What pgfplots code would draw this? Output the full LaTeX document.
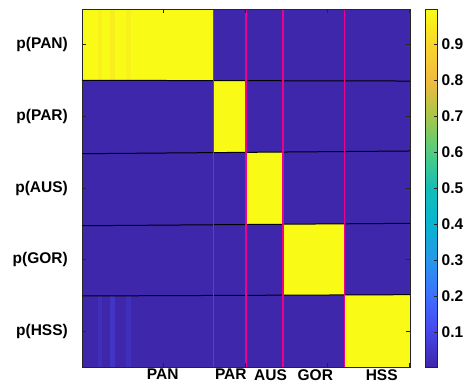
\documentclass[border=0pt]{standalone}
\usepackage{pgfplots}
\pgfplotsset{compat=1.18}
\usepgfplotslibrary{patchplots}
\usepackage{fontspec}
\setmainfont{Liberation Sans}
\newcommand{\lblfont}{\bfseries\fontsize{15.5}{17}\selectfont}
\pgfplotsset{
  colormap={parula}{
    rgb(0pt)=(0.2422,0.1504,0.6603)
    rgb(1pt)=(0.2803,0.2782,0.9221)
    rgb(2pt)=(0.2440,0.4358,0.9988)
    rgb(3pt)=(0.1540,0.5902,0.9218)
    rgb(4pt)=(0.0297,0.7082,0.8163)
    rgb(5pt)=(0.0800,0.7400,0.7200)
    rgb(6pt)=(0.3200,0.8000,0.5000)
    rgb(7pt)=(0.6500,0.7800,0.2800)
    rgb(8pt)=(0.9500,0.7300,0.2500)
    rgb(9pt)=(0.9700,0.8400,0.1700)
    rgb(10pt)=(0.9769,0.9839,0.0805)
  }
}
\begin{document}
\begin{tikzpicture}
\path[use as bounding box] (0pt,0pt) rectangle (464pt,382pt);
\begin{axis}[
  at={(82pt,15pt)}, anchor=south west,
  scale only axis, width=328pt, height=358pt,
  colormap name=parula,
  point meta min=0.003, point meta max=0.997,
  xmin=0.5, xmax=400.5, ymin=0.5, ymax=5.5,
  y dir=reverse,
  axis on top,
  axis line style={black!85, line width=0.8pt},
  tick style={black!85, line width=0.8pt},
  tick align=inside, major tick length=4pt,
  xtick={100,200,300,400}, xticklabels={},
  extra x ticks={99,182,230.5,285,366},
  extra x tick labels={PAN,PAR,AUS,GOR,HSS},
  extra x tick style={major tick length=0pt,
    xticklabel style={font=\lblfont, inner sep=0pt, anchor=north, yshift=-2pt}},
  ytick={1,2,3,4,5},
  yticklabels={p(PAN),p(PAR),p(AUS),p(GOR),p(HSS)},
  yticklabel style={font=\lblfont, inner sep=0pt, anchor=east, xshift=-14pt},
  colorbar,
  colorbar style={
    at={(parent axis.north east)}, anchor=north west, xshift=7pt,
    scale only axis, width=12pt, height=358pt,
    ytick={0.1,0.2,0.3,0.4,0.5,0.6,0.7,0.8,0.9},
    yticklabel pos=right, ytick pos=right,
    tick align=inside, major tick length=4pt,
    axis line style={black!85, line width=0.8pt},
    tick style={black!85, line width=0.8pt},
    yticklabel style={font=\lblfont, inner sep=0pt, xshift=4pt,
      /pgf/number format/.cd, fixed, precision=1, fixed zerofill, assume math mode=true},
  },
]
\addplot[patch, patch type=rectangle, shader=flat, point meta=explicit] table[meta=c] {
x y c
0.5 0.5 0.995
20.5 0.5 0.995
20.5 1.5 0.995
0.5 1.5 0.995
20.5 0.5 0.97
25.5 0.5 0.97
25.5 1.5 0.97
20.5 1.5 0.97
25.5 0.5 0.995
34.5 0.5 0.995
34.5 1.5 0.995
25.5 1.5 0.995
34.5 0.5 0.96
40.5 0.5 0.96
40.5 1.5 0.96
34.5 1.5 0.96
40.5 0.5 0.995
54.5 0.5 0.995
54.5 1.5 0.995
40.5 1.5 0.995
54.5 0.5 0.97
60.5 0.5 0.97
60.5 1.5 0.97
54.5 1.5 0.97
60.5 0.5 0.995
160.5 0.5 0.995
160.5 1.5 0.995
60.5 1.5 0.995
160.5 0.5 0.005
400.5 0.5 0.005
400.5 1.5 0.005
160.5 1.5 0.005
0.5 1.5 0.005
160.5 1.5 0.005
160.5 2.5 0.005
0.5 2.5 0.005
160.5 1.5 0.995
200.5 1.5 0.995
200.5 2.5 0.995
160.5 2.5 0.995
200.5 1.5 0.005
400.5 1.5 0.005
400.5 2.5 0.005
200.5 2.5 0.005
0.5 2.5 0.005
200.5 2.5 0.005
200.5 3.5 0.005
0.5 3.5 0.005
200.5 2.5 0.995
245.5 2.5 0.995
245.5 3.5 0.995
200.5 3.5 0.995
245.5 2.5 0.005
400.5 2.5 0.005
400.5 3.5 0.005
245.5 3.5 0.005
0.5 3.5 0.005
245.5 3.5 0.005
245.5 4.5 0.005
0.5 4.5 0.005
245.5 3.5 0.995
320.5 3.5 0.995
320.5 4.5 0.995
245.5 4.5 0.995
320.5 3.5 0.005
400.5 3.5 0.005
400.5 4.5 0.005
320.5 4.5 0.005
0.5 4.5 0.005
20.5 4.5 0.005
20.5 5.5 0.005
0.5 5.5 0.005
20.5 4.5 0.03
25.5 4.5 0.03
25.5 5.5 0.03
20.5 5.5 0.03
25.5 4.5 0.005
34.5 4.5 0.005
34.5 5.5 0.005
25.5 5.5 0.005
34.5 4.5 0.045
40.5 4.5 0.045
40.5 5.5 0.045
34.5 5.5 0.045
40.5 4.5 0.005
54.5 4.5 0.005
54.5 5.5 0.005
40.5 5.5 0.005
54.5 4.5 0.03
60.5 4.5 0.03
60.5 5.5 0.03
54.5 5.5 0.03
60.5 4.5 0.005
320.5 4.5 0.005
320.5 5.5 0.005
60.5 5.5 0.005
320.5 4.5 0.995
400.5 4.5 0.995
400.5 5.5 0.995
320.5 5.5 0.995
};
\addplot[black, line width=1pt] coordinates {(0.5,1.496) (400.5,1.506)};
\addplot[black, line width=1pt] coordinates {(0.5,2.521) (400.5,2.483)};
\addplot[black, line width=1pt] coordinates {(0.5,3.527) (400.5,3.493)};
\addplot[black, line width=1pt] coordinates {(0.5,4.508) (400.5,4.490)};
\addplot[magenta, line width=1pt] coordinates {(160.5,0.5) (160.5,5.5)};
\addplot[magenta, line width=1.4pt] coordinates {(200.5,0.5) (200.5,5.5)};
\addplot[magenta, line width=1.4pt] coordinates {(245.5,0.5) (245.5,5.5)};
\addplot[magenta, line width=1.4pt] coordinates {(320.5,0.5) (320.5,5.5)};
\end{axis}
\end{tikzpicture}
\end{document}
